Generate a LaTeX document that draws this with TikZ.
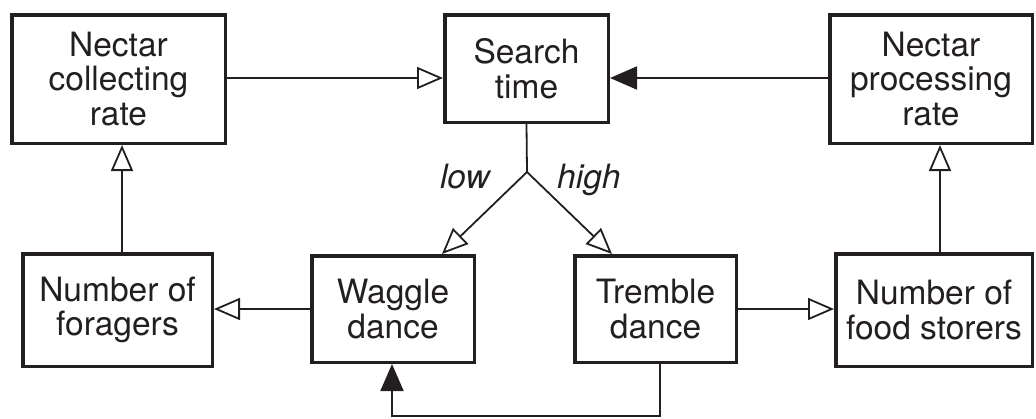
\documentclass[tikz,border=0pt]{standalone}
\usepackage{fontspec}
\setmainfont{TeX Gyre Heros}
\usetikzlibrary{arrows.meta}
\definecolor{ink}{RGB}{35,31,32}
\begin{document}
\begin{tikzpicture}[x=1pt,y=-1pt,
  every node/.style={text=ink},
  box/.style={draw=ink, line width=3.5pt, inner sep=0pt, align=center,
    font=\fontsize{33.5}{34.5}\selectfont},
  link/.style={draw=ink, line width=1.8pt},
  opentip/.style={link, -{Triangle[open, length=26pt, width=22pt, line width=1.8pt]}},
  solidtip/.style={link, -{Triangle[length=27pt, width=23pt]}},
  tag/.style={font=\fontsize{33.5}{34.5}\selectfont\itshape, inner sep=0pt}]
\useasboundingbox (0,0) rectangle (1036,418);

% boxes
\node[box, minimum width=213.5pt, minimum height=128.5pt] (collect) at (118.5,79) {Nectar\\collecting\\rate};
\node[box, minimum width=163.5pt, minimum height=107.5pt] (search) at (526.5,68.5) {Search\\time};
\node[box, minimum width=202.5pt, minimum height=128.5pt] (process) at (931,79) {Nectar\\processing\\rate};
\node[box, minimum width=189.5pt, minimum height=112.5pt] (foragers) at (117.5,310) {Number of\\foragers};
\node[box, minimum width=162.5pt, minimum height=106.5pt] (waggle) at (393,309) {Waggle\\dance};
\node[box, minimum width=161.5pt, minimum height=106.5pt] (tremble) at (655.5,309) {Tremble\\dance};
\node[box, minimum width=196.5pt, minimum height=112.5pt] (storers) at (934,310) {Number of\\food storers};

% helper coordinates
\coordinate (row1) at (0,78);
\coordinate (colL) at (122,0);
\coordinate (colR) at (940,0);
\coordinate (fork) at (527,172);
\coordinate (wtip) at (442,0);
\coordinate (ttip) at (612,0);
\coordinate (fbR) at (660,416);
\coordinate (fbL) at (392,416);

% top row
\draw[opentip] (collect.east |- row1) -- (search.west |- row1);
\draw[solidtip] (process.west |- row1) -- (search.east |- row1);

% vertical links
\draw[opentip] (foragers.north -| colL) -- (collect.south -| colL);
\draw[opentip] (storers.north -| colR) -- (process.south -| colR);

% bottom row
\draw[opentip] (waggle.west) -- (waggle.west -| foragers.east);
\draw[opentip] (tremble.east) -- (tremble.east -| storers.west);

% fork below search time
\draw[link] (search.south) -- (fork);
\draw[opentip] (fork) -- (waggle.north -| wtip);
\draw[opentip] (fork) -- (tremble.north -| ttip);
\node[tag, anchor=base east] (low) at (490,188) {low};
\node[tag, anchor=base west] (high) at (557,188) {high};

% feedback from tremble to waggle
\draw[solidtip] (tremble.south -| fbR) -- (fbR) -- (fbL) -- (waggle.south -| fbL);
\end{tikzpicture}
\end{document}
